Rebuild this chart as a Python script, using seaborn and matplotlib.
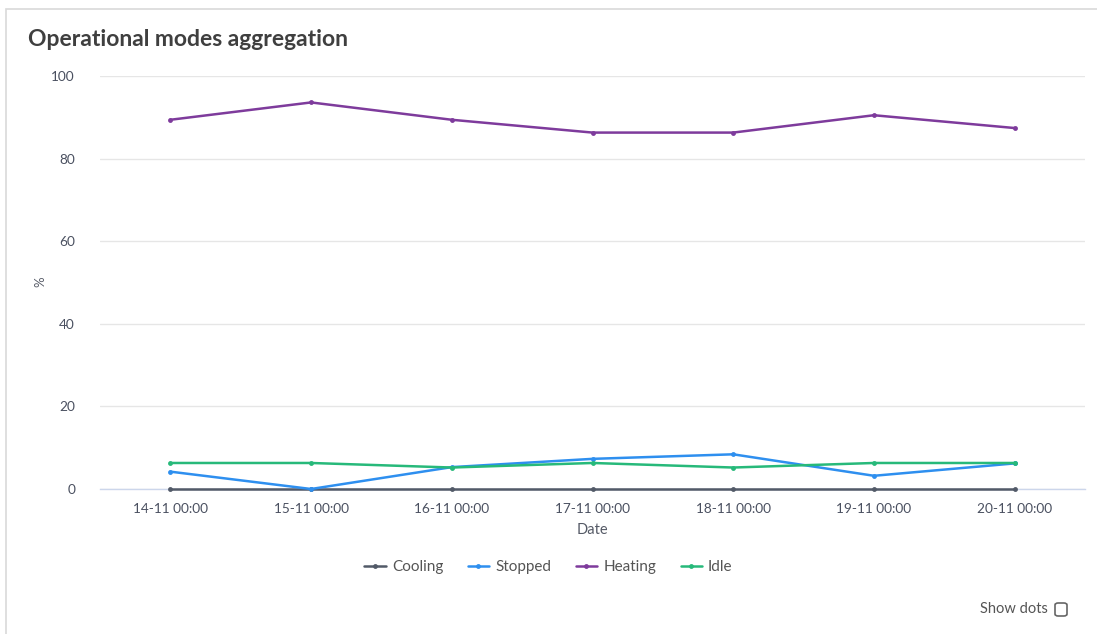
import matplotlib
matplotlib.use("Agg")
import matplotlib.pyplot as plt
import seaborn as sns
import pandas as pd
from matplotlib.patches import Rectangle, FancyBboxPatch

dates = ["14-11 00:00", "15-11 00:00", "16-11 00:00", "17-11 00:00",
         "18-11 00:00", "19-11 00:00", "20-11 00:00"]
cooling = [0, 0, 0, 0, 0, 0, 0]
stopped = [4.2, 0.0, 5.3, 7.3, 8.4, 3.2, 6.2]
heating = [89.4, 93.6, 89.4, 86.3, 86.3, 90.5, 87.4]
idle = [6.3, 6.3, 5.2, 6.3, 5.2, 6.3, 6.3]
series_names = ["Cooling", "Stopped", "Heating", "Idle"]
colors = ["#525a68", "#2e8fef", "#7e3b9c", "#27b97a"]

rows = []
for name, vals in zip(series_names, [cooling, stopped, heating, idle]):
    for d, v in zip(dates, vals):
        rows.append({"Date": d, "value": v, "mode": name})
df = pd.DataFrame(rows)

sns.set_theme(style="white")
plt.rcParams["font.family"] = ["Lato", "DejaVu Sans"]

fig = plt.figure(figsize=(10.97, 6.34), dpi=100)
ax = fig.add_axes([100 / 1097, 1 - 489 / 634, 985 / 1097, 413 / 634])

# card border
fig.patches.append(Rectangle((6 / 1097, -0.1), 1.2, 1 - 9 / 634 + 0.1,
                             transform=fig.transFigure, fill=False,
                             edgecolor="#d9d9d9", linewidth=1.2, zorder=0))

sns.lineplot(data=df, x="Date", y="value", hue="mode", hue_order=series_names,
             palette=colors, marker="o", markersize=3.5, markeredgewidth=0,
             linewidth=1.8, ax=ax, sort=False)
for ln in ax.lines:
    ln.set_clip_on(False)
    ln.set_zorder(3)

ax.set_ylim(0, 100)
ax.set_xlim(-0.5, 6.5)
ax.set_yticks([0, 20, 40, 60, 80, 100])
ax.grid(axis="y", color="#e6e6e6", linewidth=1)
ax.grid(axis="x", visible=False)
for s in ["top", "right", "left"]:
    ax.spines[s].set_visible(False)
ax.spines["bottom"].set_color("#ccd6eb")
ax.spines["bottom"].set_linewidth(1)
ax.spines["bottom"].set_zorder(1)
ax.tick_params(axis="both", length=0, labelsize=9.8, colors="#4a5060")
ax.tick_params(axis="y", pad=18)
ax.tick_params(axis="x", pad=10)
ax.set_xlabel("Date", fontsize=10.5, color="#555a66", labelpad=6)
ax.set_ylabel("%", fontsize=9.5, color="#555a66")
ax.yaxis.set_label_coords(46 / 1097, 1 - 282 / 634, transform=fig.transFigure)

leg = ax.legend(loc="center", bbox_to_anchor=(0.5, 1 - 567 / 634),
                bbox_transform=fig.transFigure, ncol=4, frameon=False,
                fontsize=11, handlelength=1.4, columnspacing=1.6,
                handletextpad=0.4, labelcolor="#555555")

fig.text(28 / 1097, 1 - 40 / 634, "Operational modes aggregation",
         fontsize=16.5, fontweight="bold", color="#3f3f3f", va="center", ha="left")
fig.text(1048 / 1097, 1 - 609 / 634, "Show dots", fontsize=10.5,
         color="#555555", va="center", ha="right")
fig.patches.append(FancyBboxPatch((1055 / 1097, 1 - 616 / 634), 12 / 1097, 13 / 634,
                                  boxstyle="round,pad=0,rounding_size=0.003",
                                  transform=fig.transFigure, fill=False,
                                  edgecolor="#666666", linewidth=1.2))

fig.savefig("out.png", dpi=100)
